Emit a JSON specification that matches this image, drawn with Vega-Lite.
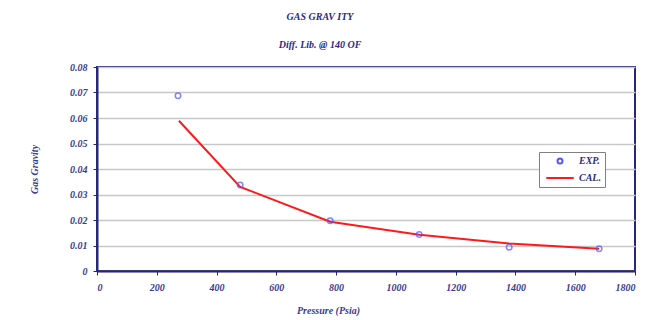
{
  "$schema": "https://vega.github.io/schema/vega-lite/v6.json",
  "autosize": {"type": "none"},
  "width": 538,
  "height": 204,
  "padding": {"left": 97, "top": 67, "right": 12, "bottom": 49},
  "background": "white",
  "title": {
    "text": "GAS GRAV ITY",
    "subtitle": "Diff. Lib. @ 140 OF",
    "anchor": "middle",
    "dx": -46,
    "offset": 12,
    "font": "Liberation Serif",
    "fontSize": 10,
    "fontStyle": "italic",
    "fontWeight": "bold",
    "color": "#2b2b86",
    "subtitleFont": "Liberation Serif",
    "subtitleFontSize": 10,
    "subtitleFontStyle": "italic",
    "subtitleFontWeight": "bold",
    "subtitleColor": "#2b2b86",
    "subtitlePadding": 18
  },
  "data": {
    "values": [
      {"pressure": 271, "value": 0.0687, "series": "EXP."},
      {"pressure": 479, "value": 0.0337, "series": "EXP."},
      {"pressure": 780, "value": 0.0197, "series": "EXP."},
      {"pressure": 1078, "value": 0.0143, "series": "EXP."},
      {"pressure": 1379, "value": 0.0093, "series": "EXP."},
      {"pressure": 1680, "value": 0.0087, "series": "EXP."},
      {"pressure": 274, "value": 0.0589, "series": "CAL."},
      {"pressure": 479, "value": 0.0330, "series": "CAL."},
      {"pressure": 780, "value": 0.0193, "series": "CAL."},
      {"pressure": 1078, "value": 0.0142, "series": "CAL."},
      {"pressure": 1379, "value": 0.0108, "series": "CAL."},
      {"pressure": 1680, "value": 0.0087, "series": "CAL."}
    ]
  },
  "encoding": {
    "x": {
      "field": "pressure",
      "type": "quantitative",
      "scale": {"domain": [0, 1800], "nice": false},
      "axis": {
        "values": [0, 200, 400, 600, 800, 1000, 1200, 1400, 1600, 1800],
        "format": "d",
        "title": "Pressure (Psia)",
        "grid": false,
        "titleX": 231,
        "titlePadding": 13,
        "labelPadding": 7
      }
    },
    "y": {
      "field": "value",
      "type": "quantitative",
      "scale": {"domain": [0, 0.08], "nice": false},
      "axis": {
        "values": [0, 0.01, 0.02, 0.03, 0.04, 0.05, 0.06, 0.07, 0.08],
        "labelExpr": "datum.value == 0 ? '0' : format(datum.value, '.2f')",
        "title": "Gas Gravity",
        "grid": true,
        "titlePadding": 30,
        "labelPadding": 6
      }
    },
    "color": {
      "field": "series",
      "type": "nominal",
      "scale": {"domain": ["EXP.", "CAL."], "range": ["#5555ff", "#ff1a1a"]},
      "legend": {
        "title": null,
        "orient": "none",
        "legendX": 442,
        "legendY": 85,
        "encode": {
          "symbols": {
            "update": {
              "size": {"signal": "datum.value == 'CAL.' ? 750 : 25"}
            }
          },
          "labels": {
            "update": {
              "dx": {"value": 10}
            }
          }
        }
      }
    }
  },
  "layer": [
    {
      "transform": [{"filter": "datum.series == 'CAL.'"}],
      "mark": {"type": "line", "strokeWidth": 2}
    },
    {
      "transform": [{"filter": "datum.series == 'EXP.'"}],
      "mark": {"type": "point", "filled": false, "size": 30, "strokeWidth": 1.5},
      "encoding": {
        "shape": {
          "field": "series",
          "type": "nominal",
          "scale": {"domain": ["EXP.", "CAL."], "range": ["circle", "stroke"]},
          "legend": {
            "title": null,
            "orient": "none",
            "legendX": 442,
            "legendY": 85
          }
        }
      }
    }
  ],
  "config": {
    "view": {"stroke": "#26267a", "strokeWidth": 2},
    "legend": {
      "strokeColor": "#808080",
      "fillColor": "white",
      "padding": 4,
      "rowPadding": 5,
      "labelFont": "Liberation Serif",
      "labelFontSize": 10,
      "labelFontStyle": "italic",
      "labelFontWeight": "bold",
      "labelColor": "#2b2b86",
      "symbolStrokeWidth": 2,
      "symbolOffset": 12,
      "labelOffset": 4
    },
    "axis": {
      "labelFont": "Liberation Serif",
      "labelFontSize": 10,
      "labelFontStyle": "italic",
      "labelFontWeight": "bold",
      "labelColor": "#3b3b8f",
      "titleFont": "Liberation Serif",
      "titleFontSize": 10,
      "titleFontStyle": "italic",
      "titleFontWeight": "bold",
      "titleColor": "#3b3b8f",
      "domainColor": "#26267a",
      "domainWidth": 2,
      "tickColor": "#26267a",
      "tickSize": 4,
      "gridColor": "#c8c8c8",
      "gridWidth": 1.5
    }
  }
}
